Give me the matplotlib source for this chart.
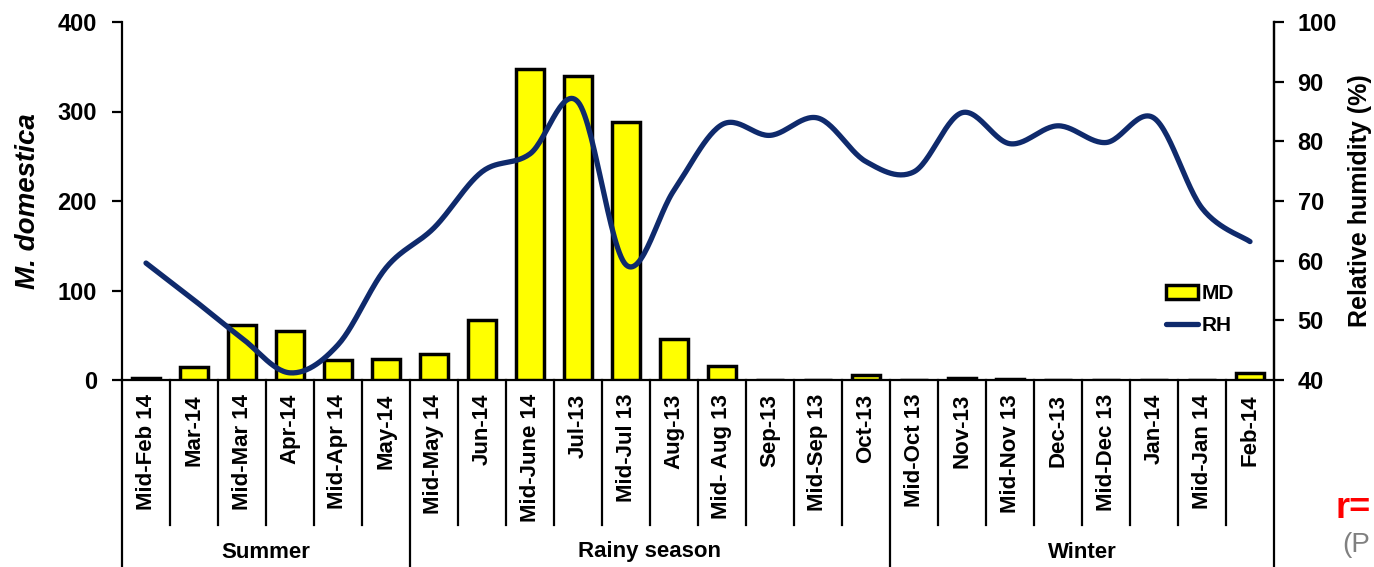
import numpy as np
import matplotlib
matplotlib.use("Agg")
import matplotlib.pyplot as plt
from matplotlib.transforms import blended_transform_factory

plt.rcParams['font.family'] = ['Liberation Sans', 'DejaVu Sans']
plt.rcParams['font.weight'] = 'bold'

categories = ["Mid-Feb 14", "Mar-14", "Mid-Mar 14", "Apr-14", "Mid-Apr 14", "May-14",
              "Mid-May 14", "Jun-14", "Mid-June 14", "Jul-13", "Mid-Jul 13", "Aug-13",
              "Mid- Aug 13", "Sep-13", "Mid-Sep 13", "Oct-13", "Mid-Oct 13", "Nov-13",
              "Mid-Nov 13", "Dec-13", "Mid-Dec 13", "Jan-14", "Mid-Jan 14", "Feb-14"]
md_values = [2, 14, 62, 55, 22, 24, 29, 67, 348, 340, 288, 46,
             16, 0, 0, 6, 0, 2, 1, 0, 0, 0, 0, 8]
rh_values = [59.6, 53.4, 47.0, 41.2, 45.9, 58.8, 65.5, 74.9, 77.9, 86.6, 59.3, 71.8,
             82.8, 81.0, 83.9, 76.6, 74.9, 84.8, 79.6, 82.6, 79.8, 83.9, 68.8, 63.2]
seasons = ["Summer", "Rainy season", "Winter"]
season_sizes = [6, 10, 8]

n = len(categories)
x = np.arange(n)

fig = plt.figure(figsize=(13.74, 5.67), dpi=100)
ax = fig.add_axes([122/1374, 1-380/567, 1152/1374, 358/567])
ax2 = ax.twinx()

ax.bar(x, md_values, width=0.58, color='#FFFF00', edgecolor='black', linewidth=2.5,
       label='MD', zorder=3)
ax.set_xlim(-0.5, n - 0.5)
ax.set_ylim(0, 400)
ax.set_yticks([0, 100, 200, 300, 400])
ax2.set_ylim(40, 100)
ax2.set_yticks(range(40, 101, 10))

# Smooth curve (Excel-style cubic Bezier through the data points)
px = x.astype(float)
py = np.array(rh_values, dtype=float)
xs, ys = [], []
t = np.linspace(0, 1, 30)
for i in range(n - 1):
    p0 = np.array([px[i], py[i]])
    p3 = np.array([px[i + 1], py[i + 1]])
    pm = np.array([px[max(i - 1, 0)], py[max(i - 1, 0)]])
    pp = np.array([px[min(i + 2, n - 1)], py[min(i + 2, n - 1)]])
    c1 = p0 + (p3 - pm) / 6.0
    c2 = p3 - (pp - p0) / 6.0
    b = ((1 - t)**3)[:, None] * p0 + (3 * (1 - t)**2 * t)[:, None] * c1 \
        + (3 * (1 - t) * t**2)[:, None] * c2 + (t**3)[:, None] * p3
    xs.extend(b[:, 0]); ys.extend(b[:, 1])
line, = ax2.plot(xs, ys, color='#0f2a6c', linewidth=3.8, solid_capstyle='round',
                 label='RH', zorder=4)

for a in (ax, ax2):
    a.spines['top'].set_visible(False)
    for s in a.spines.values():
        s.set_linewidth(1.6)
ax2.spines['left'].set_visible(False)
ax2.spines['bottom'].set_visible(False)

ax.tick_params(axis='y', direction='out', length=7, width=1.6, labelsize=17, pad=11)
ax2.tick_params(axis='y', direction='out', length=7, width=1.6, labelsize=17, pad=10)
ax.set_xticks(x)
ax.set_xticklabels(categories, rotation=90, va='top', ha='center', fontsize=16)
ax.tick_params(axis='x', length=0, pad=10)

ax.set_ylabel('M. domestica', fontsize=20, style='italic', fontweight='bold', labelpad=12)
ax2.set_ylabel('Relative humidity (%)', fontsize=18, fontweight='bold', labelpad=8)

# Category separators and season group lines
trans = blended_transform_factory(ax.transData, ax.transAxes)
bottom_short = (380 - 525) / 358.0
bottom_long = (380 - 575) / 358.0
bounds = np.cumsum([0] + season_sizes)
for k in range(n + 1):
    xb = k - 0.5
    if k in bounds:
        ax.plot([xb, xb], [0, bottom_long], transform=trans, color='black', lw=1.6,
                clip_on=False, zorder=5)
    else:
        ax.plot([xb, xb], [0, bottom_short], transform=trans, color='black', lw=1.6,
                clip_on=False, zorder=5)
for i, name in enumerate(seasons):
    xc = (bounds[i] + bounds[i + 1] - 1) / 2.0
    ax.text(xc, (380 - 552) / 358.0, name, transform=trans, ha='center', va='center',
            fontsize=16, fontweight='bold')

fig.legend(handles=[ax.containers[0], line], labels=['MD', 'RH'],
           loc='upper left', bbox_to_anchor=(1158/1374, 1 - 276/567), frameon=False,
           fontsize=15, handlelength=1.5, handleheight=0.6, handletextpad=0.2,
           labelspacing=0.6, borderaxespad=0)

fig.text(1336/1374, 1 - 509/567, 'r=', color='#FF0000', fontsize=26, fontweight='bold',
         ha='left', va='center')
fig.text(1342/1374, 1 - 545/567, '(P', color='#808080', fontsize=20, fontweight='normal',
         ha='left', va='center')

fig.savefig('out.png', dpi=100)
